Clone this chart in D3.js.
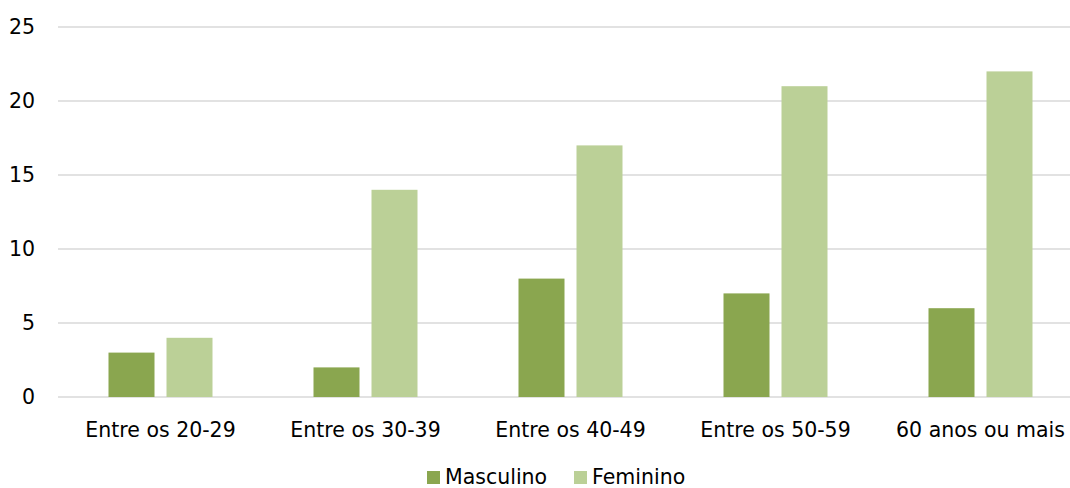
<!DOCTYPE html>
<html>
<head>
<meta charset="utf-8">
<script src="https://cdn.jsdelivr.net/npm/d3@7"></script>
<style>
  body { margin: 0; background: #fff; overflow: hidden; }
  text { font-family: "DejaVu Sans", sans-serif; fill: #000; }
</style>
</head>
<body>
<div id="chart"></div>
<script>
// Data
const categories = ['Entre os 20-29', 'Entre os 30-39', 'Entre os 40-49', 'Entre os 50-59', '60 anos ou mais'];
const masculino = [3, 2, 8, 7, 6];
const feminino = [4, 14, 17, 21, 22];
const seriesNames = ['Masculino', 'Feminino'];
const yTicks = [0, 5, 10, 15, 20, 25];

const colors = ['#8aa64f', '#bbd097'];
const width = 1070, height = 488;
const margin = {top: 27, right: 0, bottom: 91, left: 58};
const innerW = width - margin.left - margin.right;
const innerH = height - margin.top - margin.bottom;
const fontSize = '20.5px';

const svg = d3.select('#chart').append('svg')
    .attr('width', width)
    .attr('height', height);

const g = svg.append('g')
    .attr('transform', `translate(${margin.left},${margin.top})`);

// category step is a bit wider than the visible area, the last band runs off the edge
const x = d3.scaleBand()
    .domain(categories)
    .range([0, 1025]);

const y = d3.scaleLinear()
    .domain([0, 25])
    .range([innerH, 0]);

// Gridlines
g.selectAll('.grid')
    .data(yTicks)
    .enter().append('line')
    .attr('x1', 0)
    .attr('x2', innerW)
    .attr('y1', d => y(d))
    .attr('y2', d => y(d))
    .style('stroke', '#d9d9d9')
    .style('stroke-width', 1.5);

// Y labels
g.selectAll('.ylab')
    .data(yTicks)
    .enter().append('text')
    .attr('x', -23)
    .attr('y', d => y(d))
    .attr('dy', '0.35em')
    .style('text-anchor', 'end')
    .style('font-size', fontSize)
    .text(d => d);

// Bars
const barW = 46, gap = 12;
const data = categories.map((c, i) => ({cat: c, vals: [masculino[i], feminino[i]]}));

const groups = g.selectAll('.cat')
    .data(data)
    .enter().append('g')
    .attr('transform', d => `translate(${x(d.cat) + x.bandwidth() / 2},0)`);

groups.selectAll('rect')
    .data(d => d.vals)
    .enter().append('rect')
    .attr('x', (d, i) => i === 0 ? -(barW + gap / 2) : gap / 2)
    .attr('width', barW)
    .attr('y', d => y(d))
    .attr('height', d => innerH - y(d))
    .style('fill', (d, i) => colors[i]);

// X labels
groups.append('text')
    .attr('y', innerH + 40)
    .style('text-anchor', 'middle')
    .style('font-size', fontSize)
    .text(d => d.cat);

// Legend
const legend = svg.append('g').attr('transform', 'translate(427,477)');
const legendX = [0, 147];
seriesNames.forEach((name, i) => {
    legend.append('rect')
        .attr('x', legendX[i])
        .attr('y', -6)
        .attr('width', 13)
        .attr('height', 13)
        .style('fill', colors[i]);
    legend.append('text')
        .attr('x', legendX[i] + 18)
        .attr('y', 0)
        .attr('dy', '0.35em')
        .style('font-size', fontSize)
        .text(name);
});
</script>
</body>
</html>
